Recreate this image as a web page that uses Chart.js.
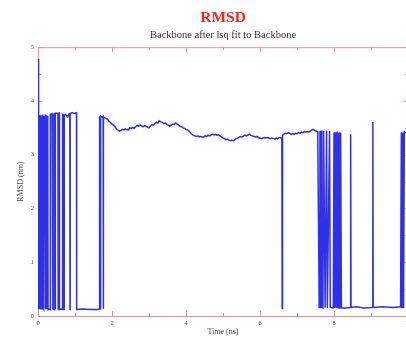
<!DOCTYPE html>
<html>
<head>
<meta charset="utf-8">
<script src="https://cdn.jsdelivr.net/npm/chart.js@4"></script>
<style>
  html, body { margin: 0; padding: 0; background: #fff; overflow: hidden; }
  #wrap { width: 446px; height: 340px; }
  canvas { filter: blur(0.5px); }
</style>
</head>
<body>
<div id="wrap"><canvas id="rmsd_chart"></canvas></div>
<script>
// time (ns) and backbone RMSD (nm)
const timeNs = [
  0.000, 0.008, 0.016, 0.024, 0.040, 0.048, 0.056, 0.072, 0.080, 0.088,
  0.096, 0.104, 0.128, 0.136, 0.144, 0.160, 0.168, 0.192, 0.200, 0.208,
  0.232, 0.240, 0.248, 0.264, 0.272, 0.300, 0.330, 0.335, 0.380, 0.400,
  0.405, 0.440, 0.445, 0.460, 0.465, 0.470, 0.540, 0.545, 0.550, 0.575,
  0.580, 0.620, 0.660, 0.665, 0.700, 0.705, 0.710, 0.740, 0.780, 0.800,
  0.840, 0.860, 0.865, 0.870, 0.920, 0.960, 1.000, 1.040, 1.045, 1.200,
  1.400, 1.600, 1.660, 1.665, 1.680, 1.685, 1.700, 1.740, 1.760, 1.765,
  1.770,
  1.80, 1.84, 1.88, 1.92, 1.96, 2.00, 2.04, 2.08, 2.12, 2.16,
  2.20, 2.24, 2.28, 2.32, 2.36, 2.40, 2.44, 2.48, 2.52, 2.56,
  2.60, 2.64, 2.68, 2.72, 2.76, 2.80, 2.84, 2.88, 2.92, 2.96,
  3.00, 3.04, 3.08, 3.12, 3.16, 3.20, 3.24, 3.28, 3.32, 3.36,
  3.40, 3.44, 3.48, 3.52, 3.56, 3.60, 3.64, 3.68, 3.72, 3.76,
  3.80, 3.84, 3.88, 3.92, 3.96, 4.00, 4.04, 4.08, 4.12, 4.16,
  4.20, 4.24, 4.28, 4.32, 4.36, 4.40, 4.44, 4.48, 4.52, 4.56,
  4.60, 4.64, 4.68, 4.72, 4.76, 4.80, 4.84, 4.88, 4.92, 4.96,
  5.00, 5.04, 5.08, 5.12, 5.16, 5.20, 5.24, 5.28, 5.32, 5.36,
  5.40, 5.44, 5.48, 5.52, 5.56, 5.60, 5.64, 5.68, 5.72, 5.76,
  5.80, 5.84, 5.88, 5.92, 5.96, 6.00, 6.04, 6.08, 6.12, 6.16,
  6.20, 6.24, 6.28, 6.32, 6.36, 6.40, 6.44, 6.48, 6.52, 6.56,
  6.59, 6.60, 6.61, 6.64, 6.68, 6.72, 6.76, 6.80, 6.84, 6.88,
  6.92, 6.96, 7.00, 7.04, 7.08, 7.12, 7.16, 7.20, 7.24, 7.28,
  7.32, 7.36, 7.40, 7.44, 7.48, 7.52, 7.56,
  7.600, 7.620, 7.640, 7.650, 7.670, 7.700, 7.720, 7.760, 7.800, 7.820,
  7.880, 7.900, 7.980, 8.000, 8.020, 8.030, 8.050, 8.060, 8.080, 8.090,
  8.110, 8.120, 8.140, 8.150, 8.170, 8.180, 8.200, 8.300, 8.440, 8.450,
  8.460, 8.600, 8.800, 9.040, 9.050, 9.060, 9.300, 9.600, 9.800, 9.820,
  9.840, 9.860, 9.880, 9.900, 9.940, 10.00
];
const rmsdNm = [
  4.78, 3.72, 0.12, 3.71, 3.72, 0.13, 3.73, 3.72, 0.12, 3.71,
  0.12, 3.72, 3.73, 0.13, 3.72, 0.12, 3.71, 3.72, 0.12, 3.73,
  3.72, 0.13, 3.71, 3.72, 0.12, 0.13, 0.12, 3.75, 3.76, 3.75,
  0.13, 0.12, 3.76, 3.76, 0.12, 3.77, 3.77, 0.13, 3.76, 3.77,
  0.12, 0.13, 0.12, 3.75, 3.74, 0.12, 3.74, 3.75, 3.72, 3.70,
  3.76, 3.77, 0.12, 3.77, 3.78, 3.77, 3.77, 3.78, 0.12, 0.13,
  0.12, 0.12, 0.13, 3.70, 3.71, 0.12, 3.72, 3.70, 3.71, 0.13,
  3.70,
  3.69, 3.67, 3.66, 3.62, 3.60, 3.57, 3.55, 3.52, 3.48, 3.46,
  3.44, 3.45, 3.47, 3.46, 3.48, 3.47, 3.46, 3.50, 3.49, 3.51,
  3.49, 3.52, 3.54, 3.53, 3.55, 3.54, 3.52, 3.54, 3.53, 3.51,
  3.50, 3.53, 3.56, 3.55, 3.58, 3.60, 3.59, 3.63, 3.61, 3.60,
  3.58, 3.59, 3.56, 3.55, 3.53, 3.55, 3.57, 3.56, 3.59, 3.57,
  3.55, 3.53, 3.52, 3.50, 3.49, 3.47, 3.46, 3.44, 3.41, 3.38,
  3.36, 3.35, 3.34, 3.35, 3.33, 3.34, 3.33, 3.33, 3.35, 3.34,
  3.36, 3.35, 3.37, 3.38, 3.37, 3.38, 3.36, 3.37, 3.35, 3.33,
  3.31, 3.30, 3.28, 3.29, 3.27, 3.26, 3.27, 3.26, 3.28, 3.30,
  3.31, 3.33, 3.34, 3.33, 3.35, 3.36, 3.35, 3.37, 3.38, 3.36,
  3.35, 3.34, 3.33, 3.34, 3.32, 3.31, 3.30, 3.31, 3.32, 3.31,
  3.32, 3.31, 3.30, 3.31, 3.30, 3.29, 3.31, 3.30, 3.32, 3.31,
  3.32, 0.14, 3.36, 3.38, 3.40, 3.39, 3.41, 3.40, 3.38, 3.39,
  3.38, 3.40, 3.39, 3.41, 3.40, 3.42, 3.41, 3.43, 3.42, 3.43,
  3.42, 3.44, 3.46, 3.47, 3.45, 3.44, 3.43,
  0.16, 3.44, 0.15, 3.45, 0.16, 0.15, 3.44, 0.16, 3.45, 0.15,
  3.44, 0.16, 0.15, 3.42, 0.15, 3.41, 0.16, 3.42, 0.15, 3.43,
  0.16, 3.41, 0.15, 3.42, 0.16, 3.41, 0.15, 0.15, 0.16, 3.38,
  0.16, 0.17, 0.15, 0.16, 3.61, 0.16, 0.17, 0.16, 0.17, 3.42,
  0.16, 3.41, 0.15, 3.43, 3.41, 3.40
];

const xMajorTicks = [0, 2, 4, 6, 8, 10];
const xMinorTicks = [1, 3, 5, 7, 9];
const yMajorTicks = [0, 1, 2, 3, 4, 5];
const yMinorTicks = [0.5, 1.5, 2.5, 3.5, 4.5];

const frameColor = "#ff8c8c";
const labelFont = { family: "Liberation Serif", size: 6.5 };

// red box with inward ticks, like the xmgrace frame
const framePlugin = {
  id: "frame",
  beforeDatasetsDraw(chart) {
    const { ctx, chartArea: a, scales } = chart;
    ctx.save();
    ctx.strokeStyle = frameColor;
    ctx.lineWidth = 1;
    ctx.beginPath();
    ctx.rect(a.left + 0.5, a.top + 0.5, a.right - a.left, a.bottom - a.top);
    const tick = (vals, len) => {
      vals.forEach((v) => {
        const px = Math.round(scales.x.getPixelForValue(v)) + 0.5;
        ctx.moveTo(px, a.bottom); ctx.lineTo(px, a.bottom - len);
        ctx.moveTo(px, a.top); ctx.lineTo(px, a.top + len);
      });
    };
    const tickY = (vals, len) => {
      vals.forEach((v) => {
        const py = Math.round(scales.y.getPixelForValue(v)) + 0.5;
        ctx.moveTo(a.left, py); ctx.lineTo(a.left + len, py);
        ctx.moveTo(a.right, py); ctx.lineTo(a.right - len, py);
      });
    };
    tick(xMajorTicks, 5);
    tick(xMinorTicks, 3);
    tickY(yMajorTicks, 5);
    tickY(yMinorTicks, 3);
    ctx.stroke();
    ctx.restore();
  },
};

const points = timeNs.map((t, i) => ({ x: t, y: rmsdNm[i] }));

new Chart(document.getElementById("rmsd_chart"), {
  type: "line",
  data: {
    datasets: [
      {
        label: "RMSD",
        data: points,
        borderColor: "#3030e8",
        borderWidth: 1.5,
        pointRadius: 0,
        tension: 0,
        fill: false,
      },
    ],
  },
  options: {
    responsive: true,
    maintainAspectRatio: false,
    animation: false,
    layout: { padding: { right: 38 } },
    plugins: {
      legend: { display: false },
      tooltip: { enabled: false },
      title: {
        display: true,
        fullSize: false,
        text: "RMSD",
        color: "#ff2020",
        font: { family: "Liberation Serif", size: 15.5, weight: "bold" },
        padding: { top: 9, bottom: 1 },
      },
      subtitle: {
        display: true,
        fullSize: false,
        text: "Backbone after lsq fit to Backbone",
        color: "#333",
        font: { family: "Liberation Serif", size: 10.5 },
        padding: { top: 0, bottom: 6 },
      },
    },
    scales: {
      x: {
        type: "linear",
        min: 0,
        max: 10,
        afterFit: (s) => { s.height = 24; },
        ticks: { stepSize: 2, color: "#555", font: labelFont, padding: 3, maxRotation: 0 },
        grid: { display: false, drawTicks: false },
        border: { display: false },
        title: {
          display: true,
          text: "Time (ns)",
          color: "#444",
          font: { family: "Liberation Serif", size: 8 },
          padding: { top: 0, bottom: 3 },
        },
      },
      y: {
        min: 0,
        max: 5,
        afterFit: (s) => { s.width = 38; },
        ticks: { stepSize: 1, color: "#555", font: labelFont, padding: 4 },
        grid: { display: false, drawTicks: false },
        border: { display: false },
        title: {
          display: true,
          text: "RMSD (nm)",
          color: "#444",
          font: { family: "Liberation Serif", size: 8 },
          padding: { top: 16, bottom: 0 },
        },
      },
    },
  },
  plugins: [framePlugin],
});
</script>
</body>
</html>
